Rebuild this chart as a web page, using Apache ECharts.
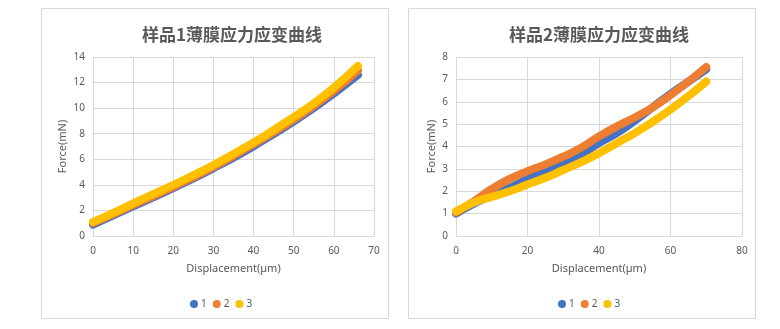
<!DOCTYPE html>
<html>
<head>
<meta charset="utf-8">
<style>
  html, body { margin: 0; padding: 0; background: #fff; }
  #chart { width: 780px; height: 329px; }
</style>
<script src="https://cdn.jsdelivr.net/npm/echarts@6/dist/echarts.min.js"></script>
</head>
<body>
<div id="chart"></div>
<script>
// Sample 1 film: displacement (µm) and force (mN) for three runs
const disp1 = [0, 6, 12, 18, 24, 30, 36, 42, 48, 54, 60, 66];
const s1run1 = [0.9, 1.75, 2.6, 3.45, 4.35, 5.3, 6.3, 7.4, 8.55, 9.8, 11.15, 12.6];
const s1run2 = [1.0, 1.85, 2.7, 3.55, 4.45, 5.4, 6.45, 7.55, 8.7, 9.95, 11.35, 12.95];
const s1run3 = [1.1, 1.95, 2.85, 3.7, 4.6, 5.55, 6.6, 7.7, 8.9, 10.15, 11.6, 13.3];

// Sample 2 film
const disp2 = [0, 5, 10, 15, 20, 25, 30, 35, 40, 45, 50, 55, 60, 65, 70];
const s2run1 = [1.0, 1.45, 1.8, 2.15, 2.55, 2.9, 3.25, 3.65, 4.15, 4.6, 5.15, 5.75, 6.35, 6.9, 7.45];
const s2run2 = [1.05, 1.55, 2.1, 2.55, 2.9, 3.2, 3.55, 3.95, 4.45, 4.9, 5.3, 5.75, 6.3, 6.9, 7.55];
const s2run3 = [1.1, 1.5, 1.75, 2.0, 2.3, 2.6, 2.95, 3.3, 3.7, 4.15, 4.6, 5.1, 5.65, 6.25, 6.9];

const runNames = ['1', '2', '3'];
const titles = ['样品1薄膜应力应变曲线', '样品2薄膜应力应变曲线'];
const xName = 'Displacement(µm)';
const yName = 'Force(mN)';

const colors = ['#4472C4', '#ED7D31', '#FFC000'];
const textColor = '#595959';
const gridColor = '#D9D9D9';
const baseFont = 'Noto Sans';

function pairs(xs, ys) {
  return xs.map((x, i) => [x, ys[i]]);
}

function xAxis(gridIndex, max, interval) {
  return {
    type: 'value', gridIndex, min: 0, max, interval,
    name: xName, nameLocation: 'middle', nameGap: 27,
    nameTextStyle: { color: textColor, fontSize: 11, fontFamily: baseFont },
    axisLine: { show: true, lineStyle: { color: gridColor } },
    axisTick: { show: false },
    axisLabel: { color: textColor, fontSize: 10, fontFamily: baseFont, margin: 10 },
    splitLine: { show: true, lineStyle: { color: gridColor } }
  };
}

function yAxis(gridIndex, max, interval, gap) {
  return {
    type: 'value', gridIndex, min: 0, max, interval,
    name: yName, nameLocation: 'middle', nameGap: gap,
    nameTextStyle: { color: textColor, fontSize: 11, fontFamily: baseFont },
    axisLine: { show: false },
    axisTick: { show: false },
    axisLabel: { color: textColor, fontSize: 10, fontFamily: baseFont, margin: 8 },
    splitLine: { show: true, lineStyle: { color: gridColor } }
  };
}

function lineSeries(idx, xs, ys, name) {
  const c = colors[runNames.indexOf(name)];
  return {
    type: 'line', name, xAxisIndex: idx, yAxisIndex: idx,
    data: pairs(xs, ys), smooth: true, showSymbol: false, symbol: 'circle',
    lineStyle: { width: 8, cap: 'round', join: 'round', color: c },
    itemStyle: { color: c },
    animation: false
  };
}

const chart = echarts.init(document.getElementById('chart'), null, { renderer: 'canvas' });

chart.setOption({
  backgroundColor: '#fff',
  animation: false,
  graphic: [
    { type: 'rect', shape: { x: 41.5, y: 8.5, width: 347, height: 310 },
      style: { fill: 'none', stroke: '#D9D9D9', lineWidth: 1 }, z: -1 },
    { type: 'rect', shape: { x: 408.5, y: 8.5, width: 347, height: 310 },
      style: { fill: 'none', stroke: '#D9D9D9', lineWidth: 1 }, z: -1 }
  ],
  title: [
    { text: titles[0], left: 227, top: 21, textAlign: 'center',
      textStyle: { color: textColor, fontSize: 17, fontWeight: 'bold', fontFamily: 'Noto Sans CJK SC' } },
    { text: titles[1], left: 594, top: 21, textAlign: 'center',
      textStyle: { color: textColor, fontSize: 17, fontWeight: 'bold', fontFamily: 'Noto Sans CJK SC' } }
  ],
  legend: [
    { data: runNames, left: 185, top: 294, icon: 'circle', itemWidth: 8, itemHeight: 8, itemGap: 6,
      textStyle: { color: textColor, fontSize: 10, fontFamily: baseFont, padding: [0, 0, 0, -2] } },
    { data: runNames, left: 553, top: 294, icon: 'circle', itemWidth: 8, itemHeight: 8, itemGap: 6,
      textStyle: { color: textColor, fontSize: 10, fontFamily: baseFont, padding: [0, 0, 0, -2] } }
  ],
  grid: [
    { left: 93, right: 406, top: 57, bottom: 93 },
    { left: 456, right: 38, top: 57, bottom: 93 }
  ],
  xAxis: [xAxis(0, 70, 10), xAxis(1, 80, 20)],
  yAxis: [yAxis(0, 14, 2, 25), yAxis(1, 8, 1, 19)],
  series: [
    lineSeries(0, disp1, s1run1, '1'),
    lineSeries(0, disp1, s1run2, '2'),
    lineSeries(0, disp1, s1run3, '3'),
    lineSeries(1, disp2, s2run1, '1'),
    lineSeries(1, disp2, s2run2, '2'),
    lineSeries(1, disp2, s2run3, '3')
  ]
});
</script>
</body>
</html>
